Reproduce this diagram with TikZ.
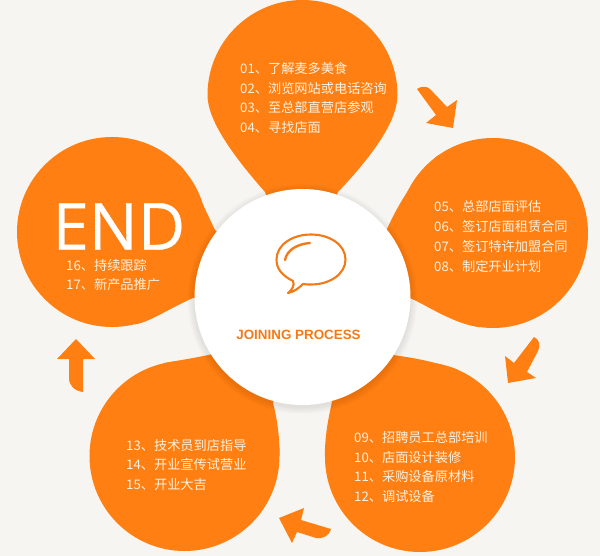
\documentclass[tikz,border=0pt]{standalone}
\usepackage{fontspec}
\newfontfamily\cjk{Noto Sans CJK SC}
\newfontfamily\bigfont[FakeBold=0.6]{Open Sans}
\setsansfont{Liberation Sans}
\definecolor{petalorange}{HTML}{FF7F12}
\definecolor{paper}{HTML}{F7F5F1}
\definecolor{cream}{HTML}{FFF1DE}
\definecolor{titleorange}{HTML}{F27A18}
\usetikzlibrary{shapes,arrows}
\tikzset{
  petal/.style={circle, fill=petalorange, minimum size=190pt, inner sep=0pt},
  tail/.style={fill=petalorange},
  turn/.style={fill=petalorange},
  steps/.style={anchor=west, inner sep=0pt, text=cream, align=left, font=\cjk\fontsize{13.2}{19.7}\selectfont},
}

\begin{document}
\begin{tikzpicture}[x=1pt,y=-1pt]

\fill[paper] (0,0) rectangle (600,556);
\useasboundingbox (0,0) rectangle (600,556);

\node (Hub) at (302.5,297) {};

\node (RightPetal) [petal] at (493,233) {};
\node (LowRightPetal) [petal] at (420,457) {};
\node (LowLeftPetal) [petal] at (184.5,456) {};
\node (LeftPetal) [petal] at (112,232) {};

% the top one narrows sooner, so it is one path
\fill[tail] (207.5,95) .. controls (207.5,42.5) and (250,0) .. (302.5,0) .. controls (355,0) and (397.5,42.5) .. (397.5,95) .. controls (397.5,118) and (378,150) .. (338,192) -- (Hub.center) -- (265,192) .. controls (228,150) and (207.5,118) .. (207.5,95) -- cycle;
\fill[tail] (RightPetal.125) .. controls (420,170) and (400,200) .. (387,229) -- (Hub.center) -- (410,298) .. controls (430,307) and (450,322) .. (RightPetal.262) -- cycle;
\fill[tail] (LowRightPetal.67) .. controls (435,362) and (415,358) .. (393,355) -- (Hub.center) -- (332,402) .. controls (328,420) and (325,435) .. (LowRightPetal.180) -- cycle;
\fill[tail] (LowLeftPetal.103) .. controls (175,361) and (195,358) .. (213,354) -- (Hub.center) -- (273,403) .. controls (277,418) and (279.5,435) .. (LowLeftPetal.0) -- cycle;
\fill[tail] (LeftPetal.45) .. controls (190,175) and (203,205) .. (215,230) -- (Hub.center) -- (193,298) .. controls (170,308) and (150,322) .. (LeftPetal.284) -- cycle;

% soft edge round the hub
\foreach \r in {109,110,...,115}
  \fill[black, opacity=0.012] (302.5,299) circle [radius=\r];
\fill[white] (302.5,297) circle [radius=108];

% speech bubble
\draw[titleorange, line width=2.1pt, line join=round] (293,281) .. controls (281,275) and (276.5,268) .. (276.5,259.5) .. controls (276.5,245) and (292,234.5) .. (311,234.5) .. controls (330,234.5) and (345.5,245) .. (345.5,259.5) .. controls (345.5,274) and (330,284.5) .. (311,284.5) .. controls (308,284.5) and (305,284.5) .. (303,284) .. controls (298,289) and (293,292) .. (288,293) .. controls (292,290) and (295,285) .. (293,281) -- cycle;
\draw[titleorange, line width=2.4pt, line cap=round] (285,260) .. controls (287,250) and (297,244) .. (310,243);

\node (Title) [inner sep=0pt, text=titleorange, font=\sffamily\bfseries\fontsize{13.4}{16}\selectfont] at (298.5,335) {JOINING PROCESS};

\node (EndWord) [inner sep=0pt, anchor=west, text=white, font=\bigfont\fontsize{65}{70}\selectfont] at (52.5,226.5) {END};

\node (StepsA) [steps] at (240,98) {01、了解麦多美食\\02、浏览网站或电话咨询\\03、至总部直营店参观\\04、寻找店面};
\node (StepsB) [steps] at (434,236.5) {05、总部店面评估\\06、签订店面租赁合同\\07、签订特许加盟合同\\08、制定开业计划};
\node (StepsC) [steps] at (354,467) {09、招聘员工总部培训\\10、店面设计装修\\11、采购设备原材料\\12、调试设备};
\node (StepsD) [steps] at (126,465) {13、技术员到店指导\\14、开业宣传试营业\\15、开业大吉};
\node (StepsE) [steps] at (66,275) {16、持续跟踪\\17、新产品推广};

% turning arrows
\fill[turn] (417,89) .. controls (421,86) and (427,86) .. (430,89) -- (447,107) -- (457,100) -- (453,128) -- (426,123) -- (436,115) -- cycle;
\fill[turn] (534,337) .. controls (539,339) and (541,345) .. (538,351) -- (527,372) -- (536,378) -- (508,383) -- (505,356) -- (514,363) -- cycle;
\fill[turn] (331,529) .. controls (329,536) and (323,539) .. (316,538) -- (297,532) -- (292,543) -- (279,518) -- (304,508) -- (301,520) -- cycle;
\fill[turn] (83,392) .. controls (75,391) and (69,386) .. (69,378) -- (69,359) -- (57,359) -- (76,339) -- (95,359) -- (83,359) -- cycle;

\end{tikzpicture}
\end{document}
